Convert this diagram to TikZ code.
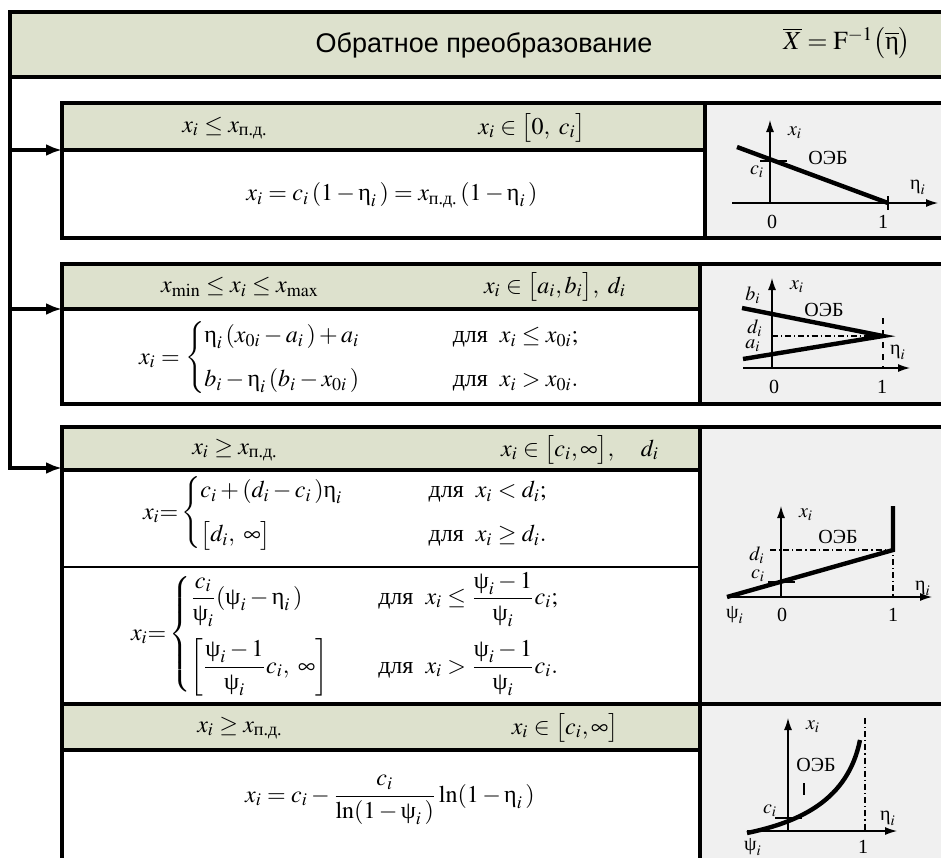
\documentclass[tikz,border=0pt]{standalone}
\usepackage{amsmath}
\usepackage{mathptmx}
\usepackage{fontspec}
\setmainfont{Liberation Serif}
\newfontfamily\titlefont{Liberation Sans}
\newfontfamily\cyrserif{Liberation Serif}
\usetikzlibrary{arrows.meta}
\definecolor{hdrgreen}{RGB}{221,225,205}
\definecolor{panelgray}{RGB}{240,240,240}
\newcommand{\eeta}{\text{\cyrserif η}}
\newcommand{\ppsi}{\text{\cyrserif ψ}}
\newcommand{\xpd}{x_{\text{\cyrserif п.д.}}}
\newcommand{\dlya}{\text{\cyrserif для}}

\begin{document}
\begin{tikzpicture}[x=0.5pt,y=-0.5pt,font=\fontsize{12}{14}\selectfont,
  frame/.style={line width=2pt},
  boxline/.style={line width=1.6pt},
  mainarrow/.style={line width=2pt,-{Latex[length=8pt,width=6pt]}},
  axis/.style={line width=0.6pt,-{Latex[length=6pt,width=4pt]}},
  curve/.style={line width=2.2pt},
  thin/.style={line width=0.6pt},
  lbl/.style={font=\cyrserif\fontsize{10}{12}\selectfont,inner sep=0pt}]
  \useasboundingbox (0,0) rectangle (941,857);

  % title band
  \fill[hdrgreen] (10,12) rectangle (950,77);
  \node[font=\titlefont\fontsize{13.5}{15}\selectfont] (title) at (484,45) {Обратное преобразование};
  \node[font=\fontsize{13}{15}\selectfont] (titlef) at (847,43)
    {$\overline{X}=\mathrm{F}^{-1}\bigl(\overline{\eeta}\bigr)$};

  % frame and left trunk
  \coordinate (ftr) at (950,12);
  \coordinate (ftl) at (10,12);
  \coordinate (tr1) at (10,150);
  \coordinate (tr2) at (10,309);
  \coordinate (tr3) at (10,468);
  \draw[frame] (ftr) -- (ftl) -- (tr3);
  \draw[frame] (10,77) -- (950,77);

  % box 1
  \fill[hdrgreen] (62,103) rectangle (705,150);
  \fill[panelgray] (705,103) rectangle (950,238);
  \draw[boxline] (950,103) -- (62,103) -- (62,238) -- (950,238);
  \draw[boxline] (62,150) -- (705,150);
  \draw[boxline] (705,103) -- (705,238);
  \coordinate (b1w) at (62,150);
  \node (h1a) at (225,128) {$x_i\le \xpd$};
  \node (h1b) at (532,128) {$x_i\in\bigl[0,\ c_i\bigr]$};
  \node (f1) at (392,195) {$x_i=c_i\,(1-\eeta_i\,)=\xpd\,(1-\eeta_i\,)$};

  % box 2
  \fill[hdrgreen] (62,264) rectangle (700,309);
  \fill[panelgray] (700,264) rectangle (950,404);
  \draw[boxline] (950,264) -- (62,264) -- (62,404) -- (950,404);
  \draw[boxline] (62,309) -- (700,309);
  \draw[boxline] (700,264) -- (700,404);
  \coordinate (b2w) at (62,309);
  \node (h2a) at (240,287) {$x_{\min}\le x_i\le x_{\max}$};
  \node (h2b) at (555,287) {$x_i\in\bigl[a_i,b_i\bigr],\ d_i$};
  \node[anchor=west] (f2) at (132,358)
    {$x_i=\begin{cases}\eeta_i\,(x_{0i}-a_i\,)+a_i & \hspace{2.9em}\dlya\ \ x_i\le x_{0i};\\[5pt]
      b_i-\eeta_i\,(b_i-x_{0i}\,) & \hspace{2.9em}\dlya\ \ x_i> x_{0i}.\end{cases}$};

  % box 3
  \fill[hdrgreen] (62,427) rectangle (700,470);
  \fill[panelgray] (700,427) rectangle (950,704);
  \draw[boxline] (950,427) -- (62,427) -- (62,704);
  \draw[boxline] (62,470) -- (700,470);
  \draw[line width=1.2pt] (62,567) -- (700,567);
  \draw[boxline] (700,427) -- (700,704);
  \coordinate (b3w) at (62,468);
  \node (h3a) at (235,450) {$x_i\ge \xpd$};
  \node (h3b) at (580,450) {$x_i\in\bigl[c_i,\infty\bigr],\quad d_i$};
  \node[anchor=west] (f3a) at (136,513)
    {$x_i{=}\begin{cases}c_i+(d_i-c_i\,)\eeta_i & \hspace{2.6em}\dlya\ \ x_i<d_i;\\[5pt]
      \bigl[d_i,\ \infty\bigr] & \hspace{2.6em}\dlya\ \ x_i\ge d_i.\end{cases}$};
  \node[anchor=west] (f3b) at (124,634)
    {$x_i{=}\begin{cases}\dfrac{c_i}{\ppsi_i}(\ppsi_i-\eeta_i\,) & \hspace{1.1em}\dlya\ \ x_i\le \dfrac{\ppsi_i-1}{\ppsi_i}c_i;\\[12pt]
      \left[\dfrac{\ppsi_i-1}{\ppsi_i}c_i,\ \infty\right] & \hspace{1.1em}\dlya\ \ x_i> \dfrac{\ppsi_i-1}{\ppsi_i}c_i.\end{cases}$};

  % box 4
  \fill[hdrgreen] (62,704) rectangle (700,750);
  \fill[panelgray] (700,704) rectangle (950,870);
  \draw[frame] (62,704) -- (950,704);
  \draw[boxline] (62,704) -- (62,870);
  \draw[boxline] (62,750) -- (700,750);
  \draw[boxline] (700,704) -- (700,870);
  \node (h4a) at (240,728) {$x_i\ge \xpd$};
  \node (h4b) at (565,728) {$x_i\in\bigl[c_i,\infty\bigr]$};
  \node (f4) at (390,800) {$x_i=c_i-\dfrac{c_i}{\ln(1-\ppsi_i\,)}\ln(1-\eeta_i\,)$};

  % arrows from trunk
  \draw[mainarrow] (tr1) -- (b1w);
  \draw[mainarrow] (tr2) -- (b2w);
  \draw[mainarrow] (ftl) -- (tr3) -- (b3w);

  % graph 1
  \draw[axis] (732,203) -- (938,203);
  \draw[axis] (770,203) -- (770,120);
  \draw[curve] (737,147) -- (888,203);
  \draw[thin] (888,196) -- (888,210);
  \draw[thin] (760,161) -- (787,161);
  \node[lbl] (g1x) at (795,133) {$x_i$};
  \node[lbl] (g1o) at (828,158) {ОЭБ};
  \node[lbl] (g1c) at (757,172) {$c_i$};
  \node[lbl] (g1e) at (918,187) {$\eeta_i$};
  \node[lbl] (g1z) at (772,222) {0};
  \node[lbl] (g1u) at (883,222) {1};

  % graph 2
  \draw[axis] (743,368) -- (910,368);
  \draw[axis] (772,368) -- (772,278);
  \draw[thin,dash pattern=on 3pt off 1.5pt on 0.6pt off 1.5pt] (772,336) -- (883,336);
  \draw[thin,dashed] (883,318) -- (883,368);
  \draw[curve] (742,308) -- (883,336) -- (743,359);
  \node[lbl] (g2b) at (753,295) {$b_i$};
  \node[lbl] (g2x) at (797,287) {$x_i$};
  \node[lbl] (g2o) at (824,310) {ОЭБ};
  \node[lbl] (g2d) at (755,328) {$d_i$};
  \node[lbl] (g2a) at (753,346) {$a_i$};
  \node[lbl] (g2e) at (898,352) {$\eeta_i$};
  \node[lbl] (g2z) at (774,387) {0};
  \node[lbl] (g2u) at (882,387) {1};

  % graph 3
  \draw[axis] (727,597) -- (932,597);
  \draw[axis] (781,597) -- (781,506);
  \draw[thin,dash pattern=on 3pt off 1.5pt on 0.6pt off 1.5pt] (770,550) -- (893,550) -- (893,597);
  \draw[thin] (768,582) -- (795,582);
  \draw[curve] (727,597) -- (893,550) -- (893,506);
  \node[lbl] (g3x) at (806,515) {$x_i$};
  \node[lbl] (g3o) at (838,537) {ОЭБ};
  \node[lbl] (g3d) at (757,555) {$d_i$};
  \node[lbl] (g3c) at (758,576) {$c_i$};
  \node[lbl] (g3e) at (923,588) {$\eeta_i$};
  \node[lbl] (g3p) at (735,615) {$\ppsi_i$};
  \node[lbl] (g3z) at (782,615) {0};
  \node[lbl] (g3u) at (893,615) {1};

  % graph 4
  \draw[axis] (747,831) -- (897,831);
  \draw[axis] (788,831) -- (788,718);
  \draw[thin,dash pattern=on 3pt off 1.5pt on 0.6pt off 1.5pt] (865,718) -- (865,831);
  \draw[thin] (775,818) -- (802,818);
  \draw[thin] (804,783) -- (804,795);
  \draw[curve] (747,833) .. controls (800,822) and (848,800) .. (860,740);
  \node[lbl] (g4x) at (813,727) {$x_i$};
  \node[lbl] (g4o) at (816,765) {ОЭБ};
  \node[lbl] (g4c) at (770,811) {$c_i$};
  \node[lbl] (g4e) at (888,818) {$\eeta_i$};
  \node[lbl] (g4p) at (753,847) {$\ppsi_i$};
  \node[lbl] (g4u) at (863,847) {1};
\end{tikzpicture}
\end{document}
